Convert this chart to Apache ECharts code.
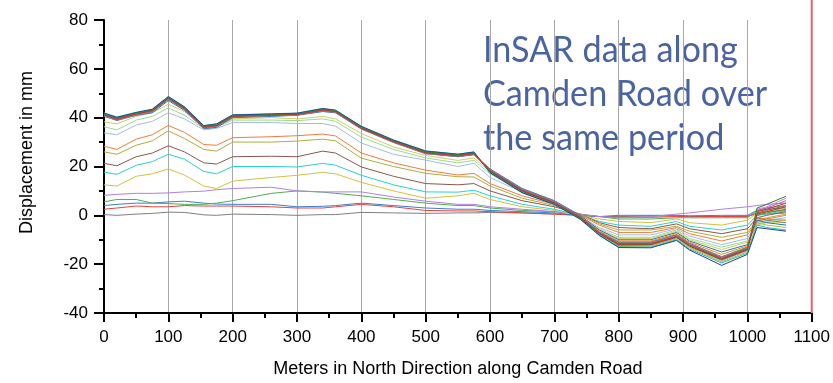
<!DOCTYPE html>
<html>
<head>
<meta charset="utf-8">
<script src="https://cdn.jsdelivr.net/npm/echarts@6/dist/echarts.min.js"></script>
<style>
  html, body { margin: 0; padding: 0; background: #fff; }
  #main { width: 833px; height: 383px; }
</style>
</head>
<body>
<div id="main"></div>
<script>
// 距离 (m)
var meters = [0, 20, 50, 75, 100, 125, 155, 175, 200, 260, 300, 340, 360, 400, 450, 500, 550, 575, 600, 650, 700, 740, 770, 800, 850, 890, 910, 960, 1000, 1015, 1030, 1060];

// 早期的几条 (位移小)
var s01 = [0.3, 0, 0.5, 0.8, 1.3, 1.2, 0.2, 0, 0.5, 0.3, 0, 0.3, 0.3, 1.2, 1, 0.8, 1, 1, 1.2, 1, 0.5, 0, -0.5, -0.5, -0.3, -0.2, -0.4, -0.5, -0.3, 0.5, 0.5, 1];
var s02 = [2.5, 3, 3.8, 3.5, 3.5, 4, 3.8, 3.8, 3.8, 3.5, 3, 3, 3.5, 4.5, 3.5, 2, 1.8, 1.8, 1.5, 1, 0.5, 0, -0.5, -0.8, -0.8, -0.5, -0.5, -0.5, -0.5, 1, 1.5, 2];
var s03 = [4, 4.5, 5, 5, 5.5, 5.8, 5, 4.6, 4.5, 4.5, 3.5, 3.7, 4, 5, 4, 3, 2.5, 2.5, 2, 1.5, 1, 0, -0.5, 0, 0, 0, -0.2, 0, 0, 2, 2.5, 3];
var s04 = [5.5, 6.5, 6.5, 5, 4.8, 4.5, 4.5, 5, 6, 9, 10, 9.5, 9, 8, 6.5, 5, 4, 4, 3, 2, 1.5, 0.5, -0.5, -1.5, -1.5, -1, -1, -1, -1, 2, 3, 4];
var s05 = [8.2, 8.6, 9, 9, 9.2, 9.6, 9.9, 10.5, 11, 11.5, 10, 9.6, 9.6, 9.6, 7.5, 5.8, 4.5, 4.5, 3.5, 2.5, 1.5, 0.5, -0.5, -1, -0.5, 0.5, 1, 2.5, 3.5, 4, 4.5, 5];
var s06 = [12.5, 12, 16, 17, 19, 16.5, 12, 11, 14, 15.5, 16.4, 17.6, 17, 13.5, 10, 7, 8, 9, 6.5, 3.5, 2, 0, -1.5, -2.5, -3, -1.5, -3, -4, -2, 1, 1.5, 3];
var s07 = [17.7, 16.8, 20.5, 22, 25, 23, 18, 17, 20, 20, 19.8, 21.3, 20.5, 16.4, 12.5, 9.6, 9.5, 10.3, 8, 4.5, 2.5, 0, -2.5, -4, -4.5, -2.5, -4.5, -6, -4, 0, 0.5, 2];
var s08 = [21.3, 20.3, 24, 25.5, 28.5, 26, 21.5, 21, 24, 24.2, 24, 26.3, 25.5, 19.8, 16, 13, 12.5, 13, 10, 6, 3.5, 0.5, -3, -5, -5.5, -3.5, -5.5, -7.5, -5.5, -1, 0, 1.5];
var s09 = [26, 25, 28.7, 30.5, 34.6, 31.5, 27, 26.3, 30, 30, 30.4, 31.2, 30.5, 23.4, 20, 17.2, 15.8, 15.7, 12, 7, 4, 0.5, -3.5, -6, -6, -4.5, -6.5, -9, -7, -2, -1, 0.5];
var s10 = [28.3, 27, 31.2, 33, 36.8, 34, 29, 28.7, 31.8, 32.2, 32.6, 33.3, 32.5, 25.5, 21.5, 18.5, 16.5, 17.2, 13, 8, 4.5, 0, -4, -7, -7, -5, -7.5, -10.5, -8, -2.5, -1.5, 0];
var s11 = [33.8, 33, 37, 38.5, 42, 39.5, 35, 35.6, 38, 38, 37.6, 37.6, 36.5, 29.6, 25, 22.6, 20, 21.3, 15.5, 9.5, 5, -0.5, -5, -8, -8, -5.5, -8.5, -12, -9.5, -3, -2, -1];
var s12 = [36.3, 35, 39, 40.5, 44, 41, 35.5, 36, 39, 39, 38.8, 39.5, 38.5, 32, 27, 23.5, 21.5, 22.5, 17, 10, 5.5, -1, -5.5, -9, -9, -6, -9.5, -13, -10.5, -3.5, -2.5, -2];
var s13 = [38.3, 37.5, 40.5, 42, 45.5, 42.5, 36, 36.5, 39.5, 40, 39.5, 40.5, 39.5, 33.5, 28, 24.5, 22.5, 23.5, 18, 10.5, 6, -1, -6, -9.5, -9.5, -6.5, -10, -14, -11, -4, -3, -3];

// 后期的一束线
var b01 = [40.5, 39, 41, 42, 47, 43, 35.5, 36, 40, 40.5, 41, 42.5, 42, 35.5, 30, 25.5, 24, 25, 19, 11, 6, 0, -6, -10, -10, -7, -10.5, -15, -12, -2, -3, -4];
var b02 = [41, 39.5, 41.5, 42.5, 47.5, 43.5, 36, 36.5, 40.5, 41, 41.2, 43, 42.3, 35.8, 30.2, 25.8, 24.3, 25.2, 18.5, 10.5, 5.5, -0.5, -6.5, -10.5, -10.5, -7.5, -11, -16, -12.5, -1, -1.5, -2];
var b03 = [41.5, 39.8, 41.8, 43, 48.3, 44, 36.3, 37, 40.8, 41.2, 41.5, 43.2, 42.5, 36, 30.5, 26, 24.6, 25.5, 18, 10, 5, -1, -7, -11, -11, -8, -11.5, -17, -13, 0, 1, 2.5];
var b04 = [41, 39.2, 41.3, 42.8, 48, 43.8, 36, 36.8, 40.6, 41, 41.3, 43, 42.4, 35.6, 30.1, 25.4, 24.2, 25, 18.2, 10.3, 5.2, -0.8, -7.2, -11.5, -11.5, -8.5, -12, -17.5, -13.5, 1.5, 2.5, 5];
var b05 = [40.8, 38.8, 41, 42.3, 47.5, 43.3, 35.6, 36.4, 40.3, 40.8, 41, 42.8, 42, 35.3, 29.8, 25.2, 24, 24.8, 18.8, 10.8, 5.8, -0.3, -6.8, -11, -11, -8, -11.5, -17, -13.5, 2, 3, 6];
var b06 = [41.2, 39.5, 41.6, 42.7, 47.8, 43.6, 36.2, 36.9, 40.7, 41.1, 41.4, 43.3, 42.6, 35.9, 30.4, 25.9, 24.5, 25.4, 18.4, 10.2, 5.3, -0.9, -7.5, -12, -12, -9, -12.5, -18, -14, 1, 2, 4];
var b07 = [41.3, 39.6, 41.7, 43.2, 48.2, 44.2, 36.5, 37.2, 40.9, 41.3, 41.6, 43.5, 42.8, 36.2, 30.6, 26.1, 24.8, 25.7, 17.8, 9.6, 4.8, -1.2, -7.8, -12.5, -12.3, -9.3, -13, -18.5, -14.5, 2.5, 3.5, 7];
var b08 = [40.9, 39.1, 41.2, 42.5, 47.6, 43.4, 35.8, 36.6, 40.4, 40.9, 41.1, 42.9, 42.2, 35.5, 29.9, 25.3, 24.1, 24.9, 18.6, 10.6, 5.6, -0.6, -7, -11.2, -11.2, -8.2, -11.8, -17.2, -13.2, -1, -2, -3];
var b09 = [41.6, 40, 42, 43.3, 48.5, 44.3, 36.6, 37.3, 41, 41.4, 41.7, 43.6, 42.9, 36.3, 30.7, 26.2, 24.9, 25.8, 17.6, 9.4, 4.6, -1.4, -8, -12.8, -12.6, -9.6, -13.3, -19, -15, -3, -4, -5];
var b10 = [42, 40.3, 42.2, 43.5, 48.7, 44.5, 36.8, 37.5, 41.2, 41.6, 41.9, 43.8, 43.1, 36.5, 30.9, 26.4, 25.1, 26, 17.4, 9.2, 4.4, -1.6, -8.3, -13, -13, -10, -13.8, -19.5, -15.5, -4, -5, -6];
var b11 = [41.8, 40.1, 42.1, 43.4, 48.6, 44.4, 36.7, 37.4, 41.1, 41.5, 41.8, 43.7, 43, 36.4, 30.8, 26.3, 25, 25.9, 17.5, 9.3, 4.5, -1.5, -8.2, -13.2, -13.3, -10.3, -14.2, -20.5, -16, -5, -5.5, -6.5];
var b12 = [41.4, 39.7, 41.9, 43.1, 48.1, 44.1, 36.4, 37.1, 40.8, 41.2, 41.5, 43.4, 42.7, 36.1, 30.5, 26, 24.7, 25.6, 17.9, 9.8, 5, -1.1, -7.6, -12.2, -12, -9, -12.6, -18.2, -14.2, 3, 4.5, 7.8];
var b13 = [41.1, 39.4, 41.5, 42.9, 47.9, 43.7, 36.1, 36.7, 40.5, 41, 41.3, 43.1, 42.5, 35.7, 30.2, 25.6, 24.4, 25.3, 18.3, 10.1, 5.1, -0.7, -7.3, -11.8, -11.8, -8.8, -12.3, -17.8, -13.8, 0.5, 1.5, 3.5];

var profiles = [s01, s02, s03, s04, s05, s06, s07, s08, s09, s10, s11, s12, s13,
    b01, b02, b03, b04, b05, b06, b07, b08, b09, b10, b11, b12, b13];
var lineColors = ['#7f7f7f', '#e8413c', '#3b7fd0', '#4caf50', '#b27fe0', '#d2c040', '#2ccfd0', '#8c564b', '#b0ac3c', '#f07c3a', '#a3bde0', '#9fd88f', '#c3d26a',
    '#1f77b4', '#ff7f0e', '#2ca02c', '#d62728', '#9467bd', '#8c564b', '#e377c2', '#7f7f7f', '#bcbd22', '#17becf', '#243f8f', '#2e7d32', '#c0392b'];

var chart = echarts.init(document.getElementById('main'));

var series = profiles.map(function (p, i) {
    return {
        type: 'line',
        data: meters.map(function (m, j) { return [m, p[j]]; }),
        showSymbol: false,
        lineStyle: { width: 1, color: lineColors[i] },
        silent: true,
        z: 3
    };
});

var labelStyle = { fontFamily: 'Liberation Sans', fontSize: 17, color: '#000', margin: 16, formatter: function (v) { return String(v); } };

var option = {
    animation: false,
    grid: { left: 104, right: 21, top: 20, bottom: 70 },
    xAxis: {
        type: 'value', min: 0, max: 1100, interval: 100,
        name: 'Meters in North Direction along Camden Road',
        nameLocation: 'middle', nameGap: 47,
        nameTextStyle: { fontFamily: 'Liberation Sans', fontSize: 18, color: '#000' },
        axisLine: { onZero: false, lineStyle: { color: '#000', width: 2 } },
        axisTick: { inside: false, length: 9, lineStyle: { color: '#000', width: 2 } },
        minorTick: { show: true, splitNumber: 2, length: 5, lineStyle: { color: '#000', width: 2 } },
        axisLabel: labelStyle,
        splitLine: { show: true, lineStyle: { color: '#a8a8a8', width: 1 } }
    },
    yAxis: {
        type: 'value', min: -40, max: 80, interval: 20,
        name: 'Displacement in mm',
        nameLocation: 'middle', nameGap: 68,
        nameTextStyle: { fontFamily: 'Liberation Sans', fontSize: 18, color: '#000', padding: [0, 0, 0, 28] },
        axisLine: { show: true, onZero: false, lineStyle: { color: '#000', width: 2 } },
        axisTick: { show: true, inside: false, length: 10, lineStyle: { color: '#000', width: 2 } },
        minorTick: { show: true, splitNumber: 2, length: 5, lineStyle: { color: '#000', width: 2 } },
        axisLabel: labelStyle,
        splitLine: { show: false }
    },
    series: series
};
chart.setOption(option);

// 右侧红线 + 标题文字
var xr = chart.convertToPixel({ xAxisIndex: 0 }, 1100);
var yb = chart.convertToPixel({ yAxisIndex: 0 }, -40);
chart.setOption({
    graphic: [
        {
            type: 'line', shape: { x1: xr, y1: 0, x2: xr, y2: yb },
            style: { stroke: '#e4606a', lineWidth: 2 }, silent: true, z: 10
        },
        {
            type: 'text', x: 483, y: 28, scaleX: 0.95, z: -1,
            style: {
                text: 'InSAR data along\nCamden Road over\nthe same period',
                font: '36px Lato', fill: '#4a64a3', lineHeight: 44
            }
        }
    ]
});
</script>
</body>
</html>
